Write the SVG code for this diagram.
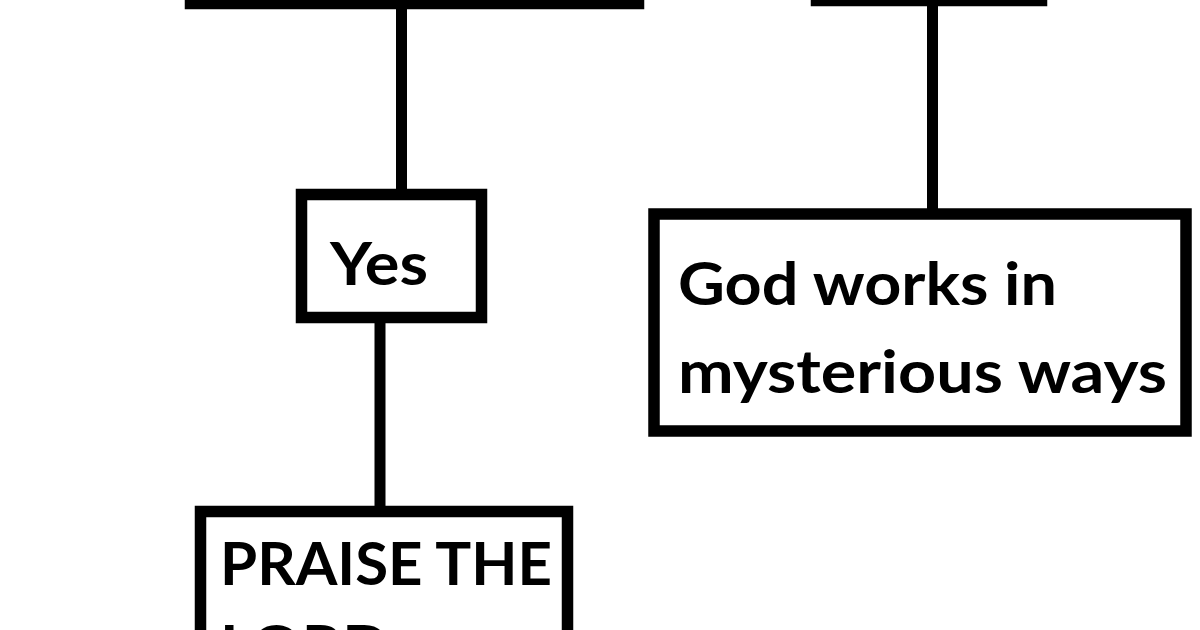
<svg xmlns="http://www.w3.org/2000/svg" width="1200" height="630" viewBox="0 0 1200 630">
<style>
.box{fill:#fff;stroke:#000;stroke-width:11.5}
.conn{stroke:#000;stroke-width:11;fill:none}
.t{font-family:Lato,"Open Sans","Liberation Sans",sans-serif;font-weight:bold;font-size:60px;fill:#000}
</style>
<rect width="1200" height="630" fill="#fff"/>
<g id="connectors">
<line class="conn" x1="401.5" y1="0" x2="401.5" y2="190"/>
<line class="conn" x1="932.5" y1="0" x2="932.5" y2="209"/>
<line class="conn" x1="380" y1="322" x2="380" y2="507"/>
</g>
<g id="top-left"><rect class="box" x="190.5" y="-100" width="448" height="103.5"/></g>
<g id="top-right"><rect class="box" x="816.5" y="-100" width="225" height="100.5"/></g>
<g id="yes">
<rect class="box" x="301.5" y="194.5" width="180" height="123"/>
<text class="t" x="330" y="285" textLength="98" lengthAdjust="spacingAndGlyphs">Yes</text>
</g>
<g id="praise">
<rect class="box" x="200.5" y="511.5" width="367" height="200"/>
<text class="t" x="220" y="585" textLength="332" lengthAdjust="spacingAndGlyphs">PRAISE THE</text>
<text class="t" x="220" y="668" textLength="170" lengthAdjust="spacingAndGlyphs">LORD</text>
</g>
<g id="god">
<rect class="box" x="654" y="214" width="532" height="217"/>
<text class="t" x="678" y="305" textLength="379" lengthAdjust="spacingAndGlyphs">God works in</text>
<text class="t" x="678" y="393" textLength="489" lengthAdjust="spacingAndGlyphs">mysterious ways</text>
</g>
</svg>
